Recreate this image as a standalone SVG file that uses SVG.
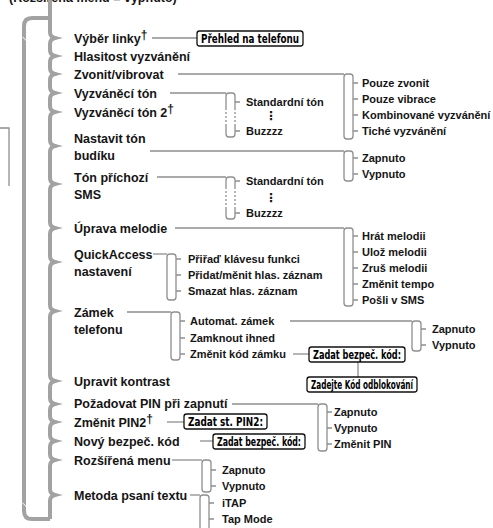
<svg xmlns="http://www.w3.org/2000/svg" width="493" height="528" viewBox="0 0 493 528">
<style>
.m{font:bold 12.5px "Liberation Sans",Arial,sans-serif;fill:#151515}
.s{font:bold 11px "Liberation Sans",Arial,sans-serif;fill:#151515}
.dots{font:bold 12px "DejaVu Sans",sans-serif;fill:#151515}
.lcd{font:bold 11.5px "DejaVu Sans Condensed","DejaVu Sans",sans-serif;fill:#000}
.ln{stroke:#8e8e8e;stroke-width:1.3;fill:none}
.dash{stroke:#8e8e8e;stroke-width:1.3;fill:none;stroke-dasharray:2 2}
.box{fill:#fff;stroke:#111;stroke-width:1.3}
.spine{stroke:#a2a2a2;stroke-width:4;fill:none;stroke-linejoin:round}
.tip{fill:#a2a2a2}
</style>
<text class="m" x="9" y="1.5">(Rozšířená menu = vypnuto)</text>
<path d="M0,128 L9,128 L9,186" fill="none" stroke="#8e8e8e" stroke-width="1.3"/>
<g id="frame">
<path class="spine" d="M50,18 L32,18 Q24,18 24,26 L24,511 Q24,519 32,519 L50,519"/>
<path class="spine" d="M50,0 L50,32 Q50,37 55,38 Q50,39 50,44 L50,50 Q50,55 55,56 Q50,57 50,62 L50,68 Q50,73 55,74 Q50,75 50,80 L50,87 Q50,92 55,93 Q50,94 50,99 L50,106 Q50,111 55,112 Q50,113 50,118 L50,140 Q50,145 55,146 Q50,147 50,152 L50,178 Q50,183 55,184 Q50,185 50,190 L50,222 Q50,227 55,228 Q50,229 50,234 L50,256 Q50,261 55,262 Q50,263 50,268 L50,305 Q50,310 55,311 Q50,312 50,317 L50,375 Q50,380 55,381 Q50,382 50,387 L50,398 Q50,403 55,404 Q50,405 50,410 L50,416 Q50,421 55,422 Q50,423 50,428 L50,435 Q50,440 55,441 Q50,442 50,447 L50,454 Q50,459 55,460 Q50,461 50,466 L50,489 Q50,494 55,495 Q50,496 50,501 L50,519"/>
<g class="tip">
<polygon points="53,35.5 63,38 53,40.5"/><polygon points="53,53.5 63,56 53,58.5"/><polygon points="53,71.5 63,74 53,76.5"/><polygon points="53,90.5 63,93 53,95.5"/><polygon points="53,109.5 63,112 53,114.5"/><polygon points="53,143.5 63,146 53,148.5"/><polygon points="53,181.5 63,184 53,186.5"/><polygon points="53,225.5 63,228 53,230.5"/><polygon points="53,259.5 63,262 53,264.5"/><polygon points="53,308.5 63,311 53,313.5"/><polygon points="53,378.5 63,381 53,383.5"/><polygon points="53,401.5 63,404 53,406.5"/><polygon points="53,419.5 63,422 53,424.5"/><polygon points="53,438.5 63,441 53,443.5"/><polygon points="53,457.5 63,460 53,462.5"/><polygon points="53,492.5 63,495 53,497.5"/>
</g>
<path d="M22.5,37 Q25,38.5 26.5,41 M22.5,503 Q25,504.5 26.5,507" stroke="#fff" stroke-width="1" fill="none"/>
</g>
<g id="connectors">
<path class="ln" d="M152,38 H197"/>
<path class="ln" d="M178,74 H344"/>
<path class="ln" d="M170,93 H226"/>
<path class="ln" d="M150,151 H344"/>
<path class="ln" d="M157,177 H226"/>
<path class="ln" d="M175,228 H344"/>
<path class="ln" d="M153,254 H167"/>
<path class="ln" d="M127,312 H171"/>
<path class="ln" d="M290,321 H412"/>
<path class="ln" d="M293,354 H309"/>
<path class="ln" d="M358,362 V377"/>
<path class="ln" d="M232,404 H318"/>
<path class="ln" d="M167,422 H184"/>
<path class="ln" d="M200,441 H213"/>
<path class="ln" d="M172,460 H202"/>
<path class="ln" d="M190,495 H200"/>
<rect class="ln" x="344" y="74" width="9" height="65" rx="3"/>
<path class="ln" d="M353,83 h5 M353,99 h5 M353,115 h5 M353,131 h5"/>
<path class="ln" d="M226,108 V96 Q226,93 229,93 H232 Q235,93 235,96 V108 M226,126 V134 Q226,137 229,137 H232 Q235,137 235,134 V126"/>
<path class="dash" d="M226,108 V126 M235,108 V126"/>
<path class="ln" d="M235,102 h5 M235,131 h5"/>
<rect class="ln" x="344" y="151" width="9" height="30" rx="3"/>
<path class="ln" d="M353,158 h5 M353,174 h5"/>
<path class="ln" d="M226,187 V180 Q226,177 229,177 H232 Q235,177 235,180 V187 M226,207 V216 Q226,219 229,219 H232 Q235,219 235,216 V207"/>
<path class="dash" d="M226,187 V207 M235,187 V207"/>
<path class="ln" d="M235,181 h5 M235,213 h5"/>
<rect class="ln" x="344" y="228" width="9" height="78" rx="3"/>
<path class="ln" d="M353,236 h5 M353,252 h5 M353,268 h5 M353,284 h5 M353,300 h5"/>
<rect class="ln" x="167" y="254" width="9" height="46" rx="3"/>
<path class="ln" d="M176,259 h5 M176,275 h5 M176,291 h5"/>
<rect class="ln" x="171" y="312" width="9" height="48" rx="3"/>
<path class="ln" d="M180,321 h5 M180,338 h5 M180,354 h5"/>
<rect class="ln" x="412" y="321" width="9" height="30" rx="3"/>
<path class="ln" d="M421,329 h5 M421,345 h5"/>
<rect class="ln" x="318" y="404" width="9" height="47" rx="3"/>
<path class="ln" d="M327,412 h5 M327,428 h5 M327,444 h5"/>
<rect class="ln" x="202" y="460" width="9" height="32" rx="3"/>
<path class="ln" d="M211,470 h5 M211,486 h5"/>
<rect class="ln" x="200" y="495" width="9" height="40" rx="3"/>
<path class="ln" d="M209,503 h5 M209,519 h5"/>
</g>
<g id="main">
<text class="m" x="74" y="42.5">Výběr linky<tspan dy="-4" font-size="12">†</tspan></text>
<text class="m" x="74" y="60.5">Hlasitost vyzvánění</text>
<text class="m" x="74" y="78.5">Zvonit/vibrovat</text>
<text class="m" x="74" y="97.5">Vyzváněcí tón</text>
<text class="m" x="74" y="116.5">Vyzváněcí tón 2<tspan dy="-4" font-size="12">†</tspan></text>
<text class="m" x="74" y="142.5">Nastavit tón</text>
<text class="m" x="74" y="159.5">budíku</text>
<text class="m" x="74" y="181.5">Tón příchozí</text>
<text class="m" x="74" y="198.5">SMS</text>
<text class="m" x="74" y="232.5">Úprava melodie</text>
<text class="m" x="74" y="258.5">QuickAccess</text>
<text class="m" x="74" y="275.5">nastavení</text>
<text class="m" x="74" y="316.5">Zámek</text>
<text class="m" x="74" y="333.5">telefonu</text>
<text class="m" x="74" y="385.5">Upravit kontrast</text>
<text class="m" x="74" y="408">Požadovat PIN při zapnutí</text>
<text class="m" x="74" y="427">Změnit PIN2<tspan dy="-4" font-size="12">†</tspan></text>
<text class="m" x="74" y="445.5">Nový bezpeč. kód</text>
<text class="m" x="74" y="464.5">Rozšířená menu</text>
<text class="m" x="74" y="499.5">Metoda psaní textu</text>
</g>
<g id="sub">
<text class="s" x="362" y="87">Pouze zvonit</text>
<text class="s" x="362" y="103">Pouze vibrace</text>
<text class="s" x="362" y="119">Kombinované vyzvánění</text>
<text class="s" x="362" y="135">Tiché vyzvánění</text>
<text class="s" x="246" y="106">Standardní tón</text>
<text class="dots" x="265" y="120">⋮</text>
<text class="s" x="246" y="135">Buzzzz</text>
<text class="s" x="362" y="162">Zapnuto</text>
<text class="s" x="362" y="178">Vypnuto</text>
<text class="s" x="246" y="185">Standardní tón</text>
<text class="dots" x="265" y="202">⋮</text>
<text class="s" x="246" y="217">Buzzzz</text>
<text class="s" x="362" y="240">Hrát melodii</text>
<text class="s" x="362" y="256">Ulož melodii</text>
<text class="s" x="362" y="272">Zruš melodii</text>
<text class="s" x="362" y="288">Změnit tempo</text>
<text class="s" x="362" y="304">Pošli v SMS</text>
<text class="s" x="188" y="263">Přiřaď klávesu funkci</text>
<text class="s" x="188" y="279">Přidat/měnit hlas. záznam</text>
<text class="s" x="188" y="295">Smazat hlas. záznam</text>
<text class="s" x="190" y="325">Automat. zámek</text>
<text class="s" x="190" y="342">Zamknout ihned</text>
<text class="s" x="190" y="358">Změnit kód zámku</text>
<text class="s" x="432" y="333">Zapnuto</text>
<text class="s" x="432" y="349">Vypnuto</text>
<text class="s" x="334" y="416">Zapnuto</text>
<text class="s" x="334" y="432">Vypnuto</text>
<text class="s" x="334" y="448">Změnit PIN</text>
<text class="s" x="222" y="474">Zapnuto</text>
<text class="s" x="222" y="490">Vypnuto</text>
<text class="s" x="222" y="507">iTAP</text>
<text class="s" x="222" y="523">Tap Mode</text>
</g>
<g id="screens">
<g id="s1"><rect class="box" x="197" y="31" width="106" height="15" rx="2.5"/><text class="lcd" x="250" y="42.5" text-anchor="middle" textLength="98" lengthAdjust="spacingAndGlyphs">Přehled na telefonu</text></g>
<g id="s2"><rect class="box" x="309" y="347" width="96" height="15" rx="2.5"/><text class="lcd" x="357" y="358.5" text-anchor="middle" textLength="88" lengthAdjust="spacingAndGlyphs">Zadat bezpeč. kód:</text></g>
<g id="s3"><rect class="box" x="307" y="377" width="110" height="15" rx="2.5"/><text class="lcd" x="362" y="388.5" text-anchor="middle" textLength="102" lengthAdjust="spacingAndGlyphs">Zadejte Kód odblokování</text></g>
<g id="s4"><rect class="box" x="184" y="414" width="83" height="15" rx="2.5"/><text class="lcd" x="225.5" y="425.5" text-anchor="middle" textLength="75" lengthAdjust="spacingAndGlyphs">Zadat st. PIN2:</text></g>
<g id="s5"><rect class="box" x="213" y="434" width="92" height="15" rx="2.5"/><text class="lcd" x="259" y="445.5" text-anchor="middle" textLength="84" lengthAdjust="spacingAndGlyphs">Zadat bezpeč. kód:</text></g>
</g>
</svg>
